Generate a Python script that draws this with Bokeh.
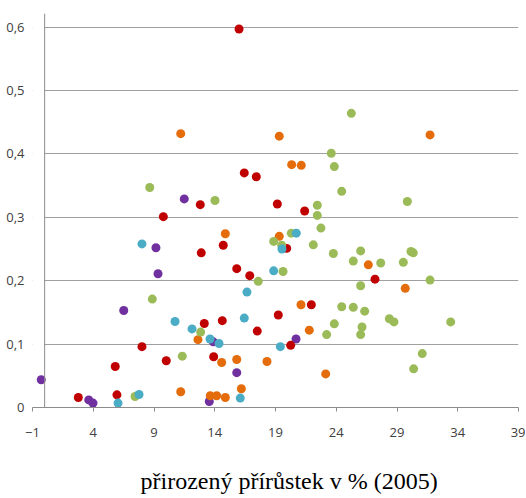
from bokeh.plotting import figure
from bokeh.models import FixedTicker, Span, BoxAnnotation, Title, Range1d
from bokeh.embed import file_html
from bokeh.resources import INLINE

# ---- data ----
x_ticks = [-1, 4, 9, 14, 19, 24, 29, 34, 39]
y_ticks = [0, 0.1, 0.2, 0.3, 0.4, 0.5, 0.6]
y_tick_labels = ["0", "0,1", "0,2", "0,3", "0,4", "0,5", "0,6"]
x_label = "přirozený přírůstek v % (2005)"

red_x = [16.0, 16.43, 17.42, 12.81, 9.77, 19.15, 21.40, 12.89, 14.70, 19.92, 15.81, 16.88, 27.19,
         13.14, 14.62, 17.50, 19.23, 21.95, 20.25, 8.01, 13.91, 10.01, 5.81, 2.77, 5.95]
red_y = [0.597, 0.370, 0.364, 0.320, 0.301, 0.321, 0.310, 0.244, 0.256, 0.251, 0.219, 0.208, 0.2025,
         0.1325, 0.137, 0.1205, 0.146, 0.162, 0.098, 0.096, 0.080, 0.0737, 0.0647, 0.0158, 0.020]

orange_x = [11.20, 19.31, 31.72, 20.33, 21.12, 14.87, 19.31, 26.64, 29.68, 21.10, 21.78, 12.62,
            14.57, 15.81, 18.30, 23.13, 11.20, 16.19, 13.63, 14.16, 14.87]
orange_y = [0.432, 0.428, 0.430, 0.383, 0.382, 0.274, 0.270, 0.225, 0.188, 0.162, 0.122, 0.107,
            0.071, 0.0757, 0.0726, 0.053, 0.0248, 0.0295, 0.0185, 0.0185, 0.0158]

green_x = [25.24, 23.59, 23.84, 24.45, 29.85, 22.44, 22.44, 8.65, 14.02, 22.74, 20.30, 18.85, 19.51,
           22.11, 23.76, 26.01, 25.40, 27.66, 29.52, 30.15, 30.34, 19.62, 17.58, 31.72, 26.01, 8.86,
           24.45, 25.40, 26.34, 28.37, 28.75, 33.42, 23.84, 26.12, 23.21, 26.01, 12.84, 31.08, 30.37,
           11.33, 7.44]
green_y = [0.464, 0.401, 0.380, 0.341, 0.325, 0.319, 0.303, 0.347, 0.3265, 0.283, 0.275, 0.262, 0.256,
           0.2566, 0.243, 0.247, 0.231, 0.228, 0.229, 0.246, 0.244, 0.2145, 0.199, 0.201, 0.192, 0.171,
           0.159, 0.158, 0.152, 0.140, 0.135, 0.135, 0.132, 0.127, 0.115, 0.115, 0.119, 0.085, 0.061,
           0.081, 0.0174]

blue_x = [8.01, 20.71, 19.53, 18.85, 16.65, 10.73, 12.13, 16.43, 13.61, 14.35, 19.40, 7.77, 6.04, 16.10]
blue_y = [0.258, 0.275, 0.250, 0.2156, 0.182, 0.1356, 0.124, 0.141, 0.108, 0.101, 0.096, 0.0205, 0.007, 0.0148]

purple_x = [11.49, 9.16, 9.33, 6.51, 13.88, 20.69, 15.81, -0.28, 3.63, 3.98, 13.55]
purple_y = [0.329, 0.252, 0.211, 0.153, 0.1036, 0.108, 0.055, 0.0437, 0.012, 0.007, 0.0095]

series = [
    (purple_x, purple_y, "#7030A0"),
    (red_x, red_y, "#C00000"),
    (orange_x, orange_y, "#E46C0A"),
    (green_x, green_y, "#9BBB59"),
    (blue_x, blue_y, "#4BACC6"),
]

AXIS_COLOR = "#8c8c8c"
GRID_COLOR = "#a0a0a0"
TICK_FONT = "Open Sans"

p = figure(
    frame_width=486, frame_height=394,
    x_range=Range1d(-1, 39), y_range=Range1d(0, 0.6215),
    output_backend="svg", toolbar_location=None,
    min_border_left=32, min_border_right=7, min_border_top=13, min_border_bottom=0,
    background_fill_color="white", border_fill_color="white",
)
p.outline_line_color = None

# grid
p.xgrid.visible = False
p.ygrid.ticker = FixedTicker(ticks=y_ticks)
p.ygrid.grid_line_color = GRID_COLOR
p.ygrid.grid_line_width = 1

# hide grid between x=-1 and x=0 (vertical axis crosses at 0)
mask = BoxAnnotation(left=-1, right=0, fill_color="white", fill_alpha=1.0,
                     line_alpha=0, level="underlay")
p.add_layout(mask)

# vertical axis line at x = 0
p.add_layout(Span(location=0, dimension="height", line_color=AXIS_COLOR, line_width=1))

# left axis: labels only
ya = p.yaxis[0]
ya.ticker = FixedTicker(ticks=y_ticks)
ya.major_label_overrides = {v: s for v, s in zip(y_ticks, y_tick_labels)}
ya.axis_line_color = None
ya.major_tick_line_color = None
ya.minor_tick_line_color = None
ya.major_label_standoff = 2
ya.major_label_text_font = TICK_FONT
ya.major_label_text_font_size = "13px"
ya.major_label_text_color = "#404040"

# bottom axis
xa = p.xaxis[0]
xa.ticker = FixedTicker(ticks=x_ticks)
xa.axis_line_color = AXIS_COLOR
xa.major_tick_line_color = AXIS_COLOR
xa.major_tick_out = 4
xa.major_tick_in = 0
xa.minor_tick_line_color = None
xa.major_label_standoff = 16
xa.major_label_text_font = TICK_FONT
xa.major_label_text_font_size = "13px"
xa.major_label_text_color = "#404040"

title = Title(text=x_label, align="left", offset=108, standoff=53,
              text_font="Liberation Serif", text_font_size="24px",
              text_font_style="normal", text_color="black")
p.add_layout(title, "below")

for xs, ys, c in series:
    p.scatter(xs, ys, size=9, fill_color=c, line_color=None, marker="circle")

open("out.html", "w").write(file_html(p, INLINE))
